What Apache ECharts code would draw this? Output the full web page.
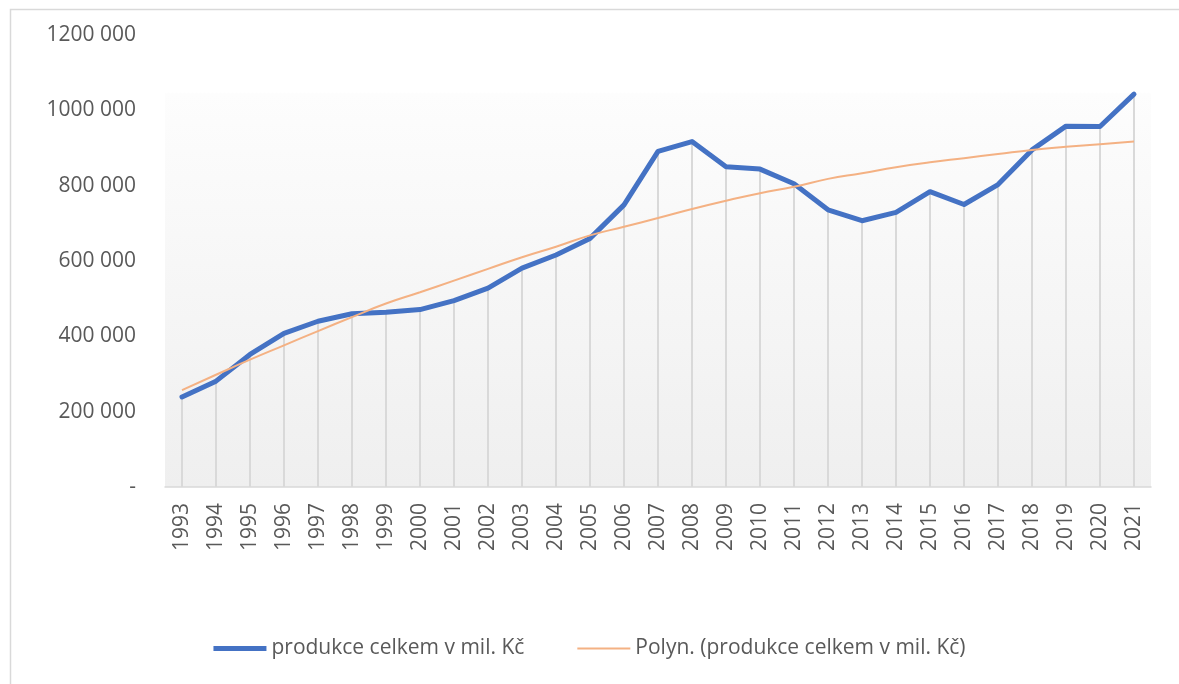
<!DOCTYPE html>
<html>
<head>
<meta charset="utf-8">
<script src="https://cdn.jsdelivr.net/npm/echarts@6/dist/echarts.min.js"></script>
<style>
  html, body { margin: 0; padding: 0; background: #fff; }
  #chart { width: 1179px; height: 684px; }
</style>
</head>
<body>
<div id="chart"></div>
<script>
var years = ['1993', '1994', '1995', '1996', '1997', '1998', '1999', '2000', '2001', '2002',
    '2003', '2004', '2005', '2006', '2007', '2008', '2009', '2010', '2011', '2012',
    '2013', '2014', '2015', '2016', '2017', '2018', '2019', '2020', '2021'];

// produkce celkem v mil. Kč
var produkce = [239000, 281000, 352000, 408000, 440000, 460000, 464000, 471000, 495000, 528000,
    581000, 616000, 660000, 749000, 891000, 917000, 850000, 844000, 805000, 736000,
    707000, 729000, 784000, 750000, 803000, 895000, 958000, 957000, 1043000];

// polynomická spojnice trendu
var trend = [257000, 298000, 338000, 376000, 414000, 451000, 487000, 517000, 548000, 579000,
    610000, 638000, 668000, 691000, 714000, 738000, 760000, 780000, 797000, 818000,
    833000, 849000, 862000, 873000, 884000, 895000, 903000, 910000, 917000];

var textColor = '#595959';
var fontFamily = '"Open Sans", "Noto Sans", sans-serif';

var chart = echarts.init(document.getElementById('chart'));

function fmtTick(v) {
    if (v === 0) return '-';
    var s = String(v);
    // mezera jako oddělovač tisíců (jen poslední trojice, jako v Excelu)
    return s.slice(0, s.length - 3) + ' ' + s.slice(-3);
}

var option = {
    backgroundColor: '#ffffff',
    animation: false,
    textStyle: {fontFamily: fontFamily},
    graphic: [
        { // rámeček grafu
            type: 'rect',
            left: 8,
            top: 7,
            shape: {width: 1200, height: 700},
            style: {fill: 'none', stroke: '#d9d9d9', lineWidth: 1.5},
            silent: true,
            z: -10
        }
    ],
    grid: {
        left: 165,
        right: 28,
        top: 35,
        bottom: 197,
        show: true,
        borderWidth: 0,
        backgroundColor: {
            type: 'linear', x: 0, y: 0, x2: 0, y2: 1,
            colorStops: [
                {offset: 0, color: '#ffffff'},
                {offset: 0.127, color: '#ffffff'},
                {offset: 0.13, color: '#fdfdfd'},
                {offset: 1, color: '#efefef'}
            ]
        }
    },
    legend: {
        bottom: 20,
        left: 'center',
        itemGap: 53,
        itemWidth: 53,
        itemHeight: 14,
        textStyle: {color: textColor, fontSize: 21, fontFamily: fontFamily},
        data: [
            {name: 'produkce celkem v mil. Kč', icon: 'path://M0,5.5 L53,5.5 L53,10.5 L0,10.5 Z', itemStyle: {color: '#4472C4'}},
            {name: 'Polyn. (produkce celkem v mil. Kč)', icon: 'path://M0,7 L53,7 L53,9 L0,9 Z', itemStyle: {color: '#F4B183'}}
        ]
    },
    xAxis: {
        type: 'category',
        data: years,
        boundaryGap: true,
        axisLine: {show: true, lineStyle: {color: '#d9d9d9', width: 1.5}},
        axisTick: {show: false},
        axisLabel: {
            rotate: 90,
            color: textColor,
            fontSize: 21,
            fontFamily: fontFamily,
            margin: 16,
            interval: 0
        },
        splitLine: {show: false}
    },
    yAxis: {
        type: 'value',
        min: 0,
        max: 1200000,
        interval: 200000,
        axisLine: {show: false},
        axisTick: {show: false},
        splitLine: {show: false},
        axisLabel: {
            color: textColor,
            fontSize: 21,
            fontFamily: fontFamily,
            margin: 29,
            formatter: fmtTick
        }
    },
    series: [
        { // svislé spojnice k ose
            name: 'drop',
            type: 'bar',
            data: produkce,
            barWidth: 2,
            itemStyle: {color: '#d9d9d9'},
            silent: true,
            z: 1
        },
        {
            name: 'produkce celkem v mil. Kč',
            type: 'line',
            data: produkce,
            showSymbol: false,
            symbol: 'none',
            lineStyle: {color: '#4472C4', width: 5, cap: 'round', join: 'round'},
            itemStyle: {color: '#4472C4'},
            z: 3
        },
        {
            name: 'Polyn. (produkce celkem v mil. Kč)',
            type: 'line',
            data: trend,
            smooth: true,
            showSymbol: false,
            symbol: 'none',
            lineStyle: {color: '#F4B183', width: 2},
            itemStyle: {color: '#F4B183'},
            z: 4
        }
    ]
};

chart.setOption(option, true);
</script>
</body>
</html>
